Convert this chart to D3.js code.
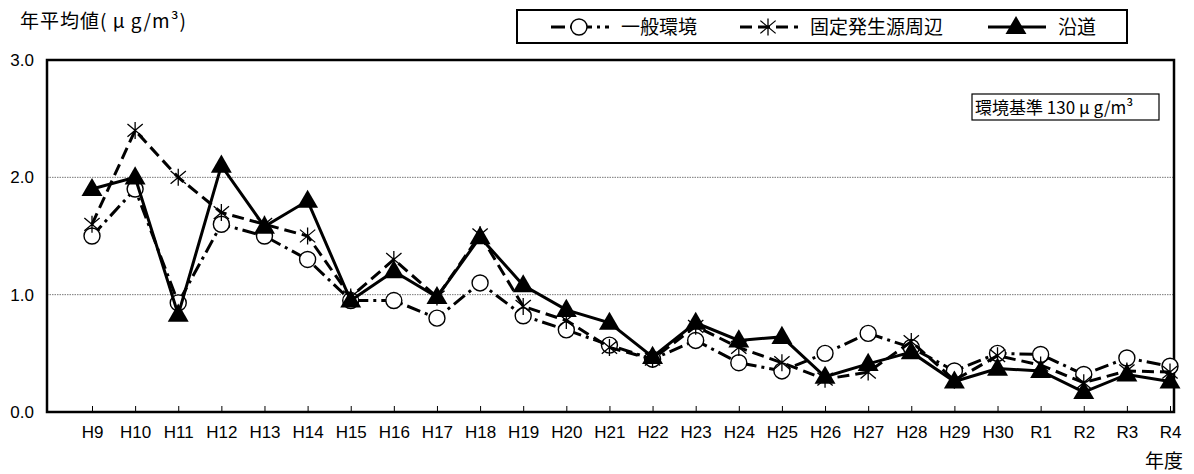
<!DOCTYPE html>
<meta charset="utf-8">
<style>
  body { margin: 0; background: #fff; }
  text { font-family: "Liberation Sans", Arial, sans-serif; fill: #000; }
  .jp { font-family: "Noto Sans CJK JP", sans-serif; }
</style>
<svg width="1194" height="474"></svg>
<script src="https://cdnjs.cloudflare.com/ajax/libs/d3/7.8.5/d3.min.js"></script>
<script>

var years = ["H9", "H10", "H11", "H12", "H13", "H14", "H15", "H16", "H17", "H18",
             "H19", "H20", "H21", "H22", "H23", "H24", "H25", "H26", "H27", "H28",
             "H29", "H30", "R1", "R2", "R3", "R4"];

// 一般環境
var ippan   = [1.5, 1.9, 0.93, 1.6, 1.5, 1.3, 0.95, 0.95, 0.8, 1.1,
               0.82, 0.7, 0.57, 0.45, 0.61, 0.42, 0.35, 0.5, 0.67, 0.55,
               0.35, 0.5, 0.49, 0.32, 0.46, 0.39];
// 固定発生源周辺
var kotei   = [1.6, 2.4, 2.0, 1.7, 1.6, 1.5, 0.98, 1.3, 0.98, 1.51,
               0.9, 0.78, 0.55, 0.45, 0.73, 0.55, 0.42, 0.28, 0.34, 0.6,
               0.27, 0.48, 0.4, 0.25, 0.35, 0.34];
// 沿道
var endo    = [1.9, 2.0, 0.83, 2.1, 1.58, 1.8, 0.95, 1.2, 0.98, 1.49,
               1.08, 0.87, 0.76, 0.47, 0.76, 0.61, 0.64, 0.3, 0.41, 0.51,
               0.26, 0.37, 0.35, 0.17, 0.32, 0.26];

var yTicks = [0, 1, 2, 3];
var gridTicks = [1, 2];

var series = [
  {name: "一般環境", values: ippan, marker: "circle", dash: "14,5,3,5"},
  {name: "固定発生源周辺", values: kotei, marker: "star", dash: "12,6"},
  {name: "沿道", values: endo, marker: "triangle", dash: null}
];

var svg = d3.select("svg"),
    margin = {top: 61, right: 20, bottom: 62, left: 47},
    width = +svg.attr("width"),
    height = +svg.attr("height");

var x = d3.scalePoint()
    .domain(years)
    .range([margin.left + 45, width - margin.right - 4]);

var y = d3.scaleLinear()
    .domain([0, 3])
    .range([height - margin.bottom, margin.top - 1]);

// gridlines
svg.append("g")
  .selectAll("line")
  .data(gridTicks)
  .enter().append("line")
    .attr("x1", margin.left)
    .attr("x2", width - margin.right)
    .attr("y1", function(d) { return y(d); })
    .attr("y2", function(d) { return y(d); })
    .attr("stroke", "#777")
    .attr("stroke-width", 1)
    .attr("stroke-dasharray", "1.5,1");

// x axis ticks (inside) and labels
var xAxis = d3.axisBottom(x).tickSizeInner(-6).tickSizeOuter(0).tickPadding(14);
var gx = svg.append("g")
    .attr("transform", "translate(0," + y(0) + ")")
    .call(xAxis);
gx.select(".domain").remove();
gx.selectAll("line").attr("stroke", "#000").attr("stroke-width", 1);
gx.selectAll("text").style("font-size", "17px").attr("fill", "#000");

// y axis labels
var yAxis = d3.axisLeft(y).tickValues(yTicks).tickSize(0).tickPadding(13)
    .tickFormat(d3.format(".1f"));
var gy = svg.append("g")
    .attr("transform", "translate(" + margin.left + ",0)")
    .call(yAxis);
gy.select(".domain").remove();
gy.selectAll("text").style("font-size", "17px").attr("fill", "#000");

// plot frame
svg.append("rect")
    .attr("x", margin.left)
    .attr("y", y(3))
    .attr("width", width - margin.right - margin.left)
    .attr("height", y(0) - y(3))
    .attr("fill", "none")
    .attr("stroke", "#000")
    .attr("stroke-width", 2.5);

function drawMarker(g, type, cx, cy) {
  if (type === "circle") {
    g.append("circle")
        .attr("cx", cx).attr("cy", cy).attr("r", 8)
        .attr("fill", "#fff").attr("stroke", "#000").attr("stroke-width", 1.4);
  } else if (type === "triangle") {
    g.append("path")
        .attr("d", d3.symbol().type(d3.symbolTriangle).size(190)())
        .attr("transform", "translate(" + cx + "," + (cy + 1) + ")")
        .attr("fill", "#000");
  } else {
    var r = 8.5, p = "M0," + (-r) + "V" + r +
        "M" + (-r * 0.9) + "," + (-r * 0.75) + "L" + (r * 0.9) + "," + (r * 0.75) +
        "M" + (-r * 0.9) + "," + (r * 0.75) + "L" + (r * 0.9) + "," + (-r * 0.75);
    g.append("path")
        .attr("d", p)
        .attr("transform", "translate(" + cx + "," + cy + ")")
        .attr("fill", "none").attr("stroke", "#000").attr("stroke-width", 1.3);
  }
}

var line = d3.line()
    .x(function(d, i) { return x(years[i]); })
    .y(function(d) { return y(d); });

series.forEach(function(s) {
  var g = svg.append("g");
  g.append("path")
      .attr("d", line(s.values))
      .attr("fill", "none")
      .attr("stroke", "#000")
      .attr("stroke-width", 3)
      .attr("stroke-dasharray", s.dash);
  s.values.forEach(function(v, i) {
    drawMarker(g, s.marker, x(years[i]), y(v));
  });
});

// titles
svg.append("text")
    .attr("class", "jp")
    .attr("x", 20).attr("y", 28)
    .style("font-size", "19px")
    .style("letter-spacing", "1px")
    .text("年平均値( μ g/m³)");

svg.append("text")
    .attr("class", "jp")
    .attr("x", 1183).attr("y", 468)
    .attr("text-anchor", "end")
    .style("font-size", "19px")
    .text("年度");

// 環境基準 box
var std = svg.append("g").attr("transform", "translate(972,94)");
std.append("rect")
    .attr("width", 187).attr("height", 26)
    .attr("fill", "#fff").attr("stroke", "#000").attr("stroke-width", 1.2);
std.append("text")
    .attr("class", "jp")
    .attr("x", 3).attr("y", 20)
    .style("font-size", "17px")
    .text("環境基準  130 μ g/m³");

// legend
var legend = svg.append("g");
legend.append("rect")
    .attr("x", 517).attr("y", 10)
    .attr("width", 610).attr("height", 33)
    .attr("fill", "#fff").attr("stroke", "#000").attr("stroke-width", 2);

var legendX = [551, 740, 988];
series.forEach(function(s, i) {
  var lx = legendX[i];
  var g = legend.append("g");
  g.append("line")
      .attr("x1", lx).attr("x2", lx + 58)
      .attr("y1", 27).attr("y2", 27)
      .attr("stroke", "#000").attr("stroke-width", 3)
      .attr("stroke-dasharray", s.dash);
  drawMarker(g, s.marker, lx + 28, 27);
  g.append("text")
      .attr("class", "jp")
      .attr("x", lx + 70).attr("y", 34)
      .style("font-size", "19px")
      .text(s.name);
});

</script>
</body>
</html>
